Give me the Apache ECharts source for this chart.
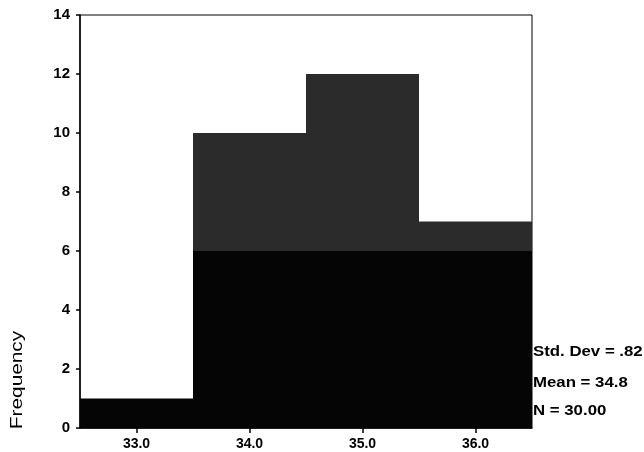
<!DOCTYPE html>
<html>
<head>
<meta charset="utf-8">
<script src="https://cdn.jsdelivr.net/npm/echarts@6/dist/echarts.min.js"></script>
<style>
html,body{margin:0;padding:0;background:#fff;}
#chart{width:644px;height:452px;}
</style>
</head>
<body>
<div id="chart"></div>
<script>
// Data
const categories = ['33.0', '34.0', '35.0', '36.0'];
const frequencies = [1, 10, 12, 7];
const yTicks = [0, 2, 4, 6, 8, 10, 12, 14];
const statLabels = ['Std. Dev = .82', 'Mean = 34.8', 'N = 30.00'];
const yAxisTitle = 'Frequency';
const darkBand = 6; // level where the scanned fill turns from grey to black

const lowerPart = frequencies.map(v => Math.min(v, darkBand));
const upperPart = frequencies.map((v, i) => v - lowerPart[i]);

const chart = echarts.init(document.getElementById('chart'));
const FONT = '"Liberation Sans", Arial, sans-serif';

chart.setOption({
  backgroundColor: '#fff',
  animation: false,
  grid: {
    left: 80, right: 112, top: 15, bottom: 24,
    show: true, borderColor: '#000', borderWidth: 1, backgroundColor: 'transparent'
  },
  xAxis: {
    type: 'category',
    data: categories,
    boundaryGap: true,
    axisLine: { show: true, lineStyle: { color: '#000', width: 1.5 } },
    axisTick: { show: true, alignWithLabel: true, length: 5, lineStyle: { color: '#000', width: 1.5 } },
    axisLabel: { color: '#000', fontFamily: FONT, fontWeight: 'bold', fontSize: 14, margin: 9 },
    splitLine: { show: false }
  },
  yAxis: {
    type: 'value',
    min: yTicks[0],
    max: yTicks[yTicks.length - 1],
    interval: yTicks[1] - yTicks[0],
    axisLine: { show: true, lineStyle: { color: '#000', width: 1.5 } },
    axisTick: { show: true, length: 4, lineStyle: { color: '#000', width: 1.5 } },
    axisLabel: { color: '#000', fontFamily: FONT, fontWeight: 'bold', fontSize: 15, margin: 10 },
    splitLine: { show: false }
  },
  series: [
    {
      type: 'bar', stack: 'f', data: lowerPart,
      barWidth: '100%', barCategoryGap: 0,
      itemStyle: { color: '#050505' }
    },
    {
      type: 'bar', stack: 'f', data: upperPart,
      barWidth: '100%', barCategoryGap: 0,
      itemStyle: { color: '#2b2b2b' }
    }
  ],
  graphic: [
    {
      type: 'text', x: 18, y: 380, rotation: Math.PI / 2, scaleX: 1.3,
      style: { text: yAxisTitle, fill: '#000', font: '16px ' + FONT, align: 'center', verticalAlign: 'middle' }
    },
    ...statLabels.map((t, i) => ({
      type: 'text', x: 533, y: [352, 383, 411][i], scaleX: 1.2,
      style: { text: t, fill: '#000', font: 'bold 14px ' + FONT, align: 'left', verticalAlign: 'middle' }
    }))
  ]
});
</script>
</body>
</html>
